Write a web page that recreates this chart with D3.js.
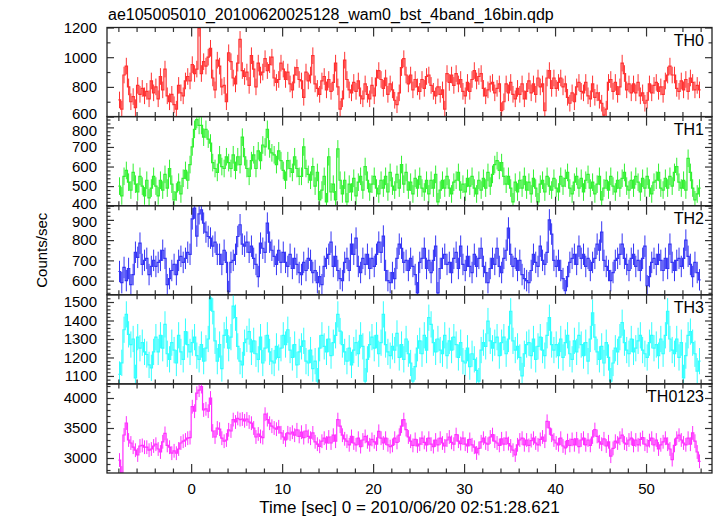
<!DOCTYPE html>
<html><head><meta charset="utf-8">
<script src="https://cdn.jsdelivr.net/npm/d3@7"></script>
<style>
body{margin:0;background:#fff}
svg{display:block}
text{font-family:"Liberation Sans",Arial,Helvetica,sans-serif;fill:#000}
</style>
</head><body>
<svg id="c" width="717" height="516"></svg>
<script>
const title = "ae105005010_20100620025128_wam0_bst_4band_16bin.qdp";
const xLabel = "Time [sec] 0 = 2010/06/20 02:51:28.621";
const yLabel = "Counts/sec";
const panelNames = ["TH0", "TH1", "TH2", "TH3", "TH0123"];
const binStart = -8, binWidth = 0.25;
const xDomain = [-9.25, 57.25];
const xMajorTicks = [0, 10, 20, 30, 40, 50];
const xMinorStep = 2;

const th0 = [
712,650,880,940, 800,700,735,660, 810,750,790,740, 770,720,840,760,
800,720,870,780, 920,740,700,750, 680,650,810,760, 740,840,870,840,
950,890,920,1195, 890,970,940,1000, 1060,860,780,980, 940,800,810,700,
1030,970,860,820, 960,1120,910,870, 900,810,1010,920, 800,960,880,900,
990,910,950,1000, 860,830,850,960, 920,850,900,820, 780,880,930,850,
840,730,900,840, 880,1010,820,790, 750,840,870,780, 850,770,830,960,
800,650,720,980, 850,780,760,830, 770,840,740,720, 820,750,720,810,
740,860,910,850, 790,860,750,820, 780,710,680,760, 930,990,880,820,
880,780,850,800, 770,850,790,870, 880,810,770,740, 800,750,780,650,
890,830,880,810, 890,820,850,770, 740,830,770,850, 910,840,870,890,
790,740,780,820, 830,760,790,820, 640,700,820,760, 830,750,720,790,
750,820,720,770, 840,760,820,750, 860,800,820,640, 860,910,790,860,
790,830,860,800, 820,730,690,760, 700,800,830,770, 760,830,740,720,
820,730,760,710, 690,610,650,830, 850,770,830,750, 800,960,890,780,
820,760,820,760, 830,740,760,690, 710,820,760,810, 830,770,800,750,
840,880,940,880, 880,790,770,840, 780,850,770,860, 830,780,810,780
];
const th1 = [
500,450,550,580, 520,480,570,510, 470,550,500,450, 530,440,490,550,
500,450,530,480, 560,490,590,510, 430,470,520,460, 540,580,530,610,
700,790,840,810, 810,750,790,740, 720,620,590,570, 660,600,590,650,
620,590,660,580, 650,610,750,650, 590,550,630,660, 590,680,630,710,
700,790,690,670, 660,610,680,630, 580,530,630,590, 570,650,590,550,
550,700,590,560, 530,600,500,570, 430,480,550,420, 650,470,510,430,
690,530,460,530, 420,510,470,540, 450,520,550,480, 600,530,470,510,
550,490,460,530, 490,550,470,570, 500,480,560,490, 610,510,570,480,
520,460,540,490, 550,490,470,530, 460,530,490,560, 420,480,530,490,
550,490,460,520, 530,570,480,510, 470,540,500,550, 490,460,530,480,
540,490,570,500, 560,610,630,580, 620,550,510,550, 490,420,520,470,
530,490,550,480, 520,460,540,490, 420,510,530,470, 550,500,480,540,
490,470,550,500, 540,570,490,460, 520,550,490,540, 470,530,560,490,
520,460,510,550, 430,490,530,480, 550,500,470,530, 490,540,570,500,
480,530,490,550, 520,470,540,490, 550,490,460,520, 530,570,490,480,
540,490,550,500, 570,600,520,490, 530,480,642,570, 490,430,460,490
];
const th2 = [
645,590,665,600, 660,580,630,740, 715,785,680,700, 710,630,670,700,
670,690,700,750, 710,580,610,650, 680,630,700,720, 690,710,740,730,
905,958,820,930, 950,884,840,818, 810,770,790,730, 730,680,750,690,
546,690,700,730, 818,876,780,770, 790,740,770,710, 680,620,785,760,
740,884,790,750, 720,680,750,690, 740,690,670,730, 660,710,680,640,
630,690,650,710, 700,640,650,590, 620,580,670,710, 730,790,670,720,
650,610,600,690, 710,650,780,730, 810,670,640,710, 680,730,660,710,
670,730,790,740, 820,650,600,590, 640,610,710,780, 760,690,700,650,
710,670,630,540, 690,710,760,660, 700,640,700,770, 540,660,710,730,
680,690,640,710, 740,660,770,680, 650,720,670,640, 730,670,710,760,
670,640,590,660, 710,680,760,670, 640,710,750,860, 730,670,710,650,
700,630,610,600, 590,650,730,690, 670,770,700,680, 740,900,830,700,
670,700,650,610, 550,620,690,710, 730,680,770,710, 730,670,710,650,
690,710,780,750, 840,700,670,650, 600,640,700,710, 730,780,710,680,
650,710,730,670, 700,650,710,770, 575,620,690,710, 680,730,700,650,
710,660,780,690, 650,700,710,670, 710,800,720,680, 620,690,640,604
];
const th3 = [
1108,1171,1350,1433, 1325,1270,1300,1090, 1310,1250,1280,1230, 1216,1160,1144,1230,
1310,1230,1320,1250, 1379,1220,1190,1280, 1240,1170,1320,1230, 1190,1340,1270,1230,
1280,1310,1210,1190, 1270,1180,1250,1300, 1523,1450,1290,1180, 1270,1140,1320,1350,
1250,1310,1478,1415, 1260,1180,1160,1280, 1300,1340,1230,1290, 1220,1190,1310,1170,
1250,1320,1230,1180, 1170,1260,1200,1250, 1320,1270,1350,1240, 1200,1270,1160,1230,
1260,1290,1180,1170, 1240,1140,1180,1072, 1250,1320,1260,1230, 1300,1210,1280,1320,
1433,1343,1270,1230, 1180,1250,1160,1240, 1280,1220,1320,1260, 1072,1190,1270,1310,
1250,1320,1220,1280, 1433,1270,1230,1210, 1260,1240,1330,1200, 1270,1190,1300,1220,
1170,1072,1150,1250, 1290,1220,1320,1240, 1415,1379,1280,1230, 1300,1240,1220,1320,
1210,1290,1240,1310, 1270,1200,1280,1180, 1170,1250,1150,1220, 1190,1130,1072,1240,
1280,1260,1397,1290, 1250,1280,1310,1210, 1280,1310,1220,1300, 1450,1290,1240,1260,
1200,1100,1220,1270, 1280,1210,1300,1190, 1260,1310,1240,1210, 1320,1415,1270,1240,
1270,1210,1300,1200, 1280,1320,1220,1190, 1290,1230,1320,1270, 1210,1280,1180,1300,
1442,1310,1230,1190, 1260,1170,1280,1200, 1072,1170,1250,1230, 1310,1388,1280,1240,
1220,1300,1230,1250, 1290,1320,1240,1220, 1200,1280,1320,1250, 1270,1210,1300,1220,
1320,1450,1300,1240, 1220,1300,1200,1280, 1090,1210,1320,1340, 1280,1220,1126,1180
];
const th0123 = [
2966,2750,3383,3583, 3300,3250,3180,3130, 3050,3200,3210,3180, 3180,3130,3150,3200,
3230,3150,3100,3270, 3410,3210,3180,3080, 3120,3080,3150,3250, 3280,3300,3330,3340,
3855,3780,4080,4130, 4190,3800,3820,3780, 4000,3450,3350,3500, 3480,3330,3280,3300,
3470,3450,3640,3600, 3660,3640,3650,3620, 3650,3600,3580,3500, 3350,3400,3360,3340,
3730,3640,3580,3530, 3500,3480,3520,3420, 3350,3300,3420,3400, 3430,3380,3470,3360,
3430,3340,3450,3360, 3330,3418,3270,3230, 3195,3280,3330,3250, 3350,3250,3380,3280,
3640,3530,3380,3320, 3280,3220,3360,3250, 3220,3330,3190,3300, 3360,3270,3220,3310,
3270,3230,3445,3330, 3250,3330,3220,3190, 3210,3330,3260,3380, 3530,3640,3474,3350,
3280,3210,3310,3200, 3230,3330,3260,3220, 3330,3230,3190,3300, 3220,3330,3250,3200,
3300,3350,3260,3230, 3390,3280,3240,3330, 3230,3200,3310,3220, 3180,3084,3160,3270,
3330,3250,3230,3350, 3390,3280,3250,3210, 3320,3230,3330,3240, 3200,3130,3050,3220,
3300,3330,3220,3300, 3210,3290,3330,3250, 3220,3310,3350,3280, 3612,3500,3380,3300,
3250,3220,3330,3200, 3170,3290,3210,3310, 3220,3320,3190,3300, 3330,3220,3300,3210,
3350,3474,3360,3270, 3230,3320,3200,3270, 3030,3160,3280,3250, 3330,3380,3250,3230,
3300,3330,3210,3300, 3220,3310,3340,3230, 3200,3290,3330,3220, 3300,3150,3220,3270,
3330,3230,3150,2973, 3210,3330,3380,3300, 3250,3220,3330,3230, 3418,3280,3100,2945
];
const series = [th0, th1, th2, th3, th0123];
const errors = [56, 45, 53, 71, 115];
const yDomains = [[600, 1200], [400, 855], [530, 970], [1057, 1539], [2750, 4235]];
const yMajorTicks = [[600, 800, 1000, 1200], [400, 500, 600, 700, 800], [600, 700, 800, 900], [1100, 1200, 1300, 1400, 1500], [3000, 3500, 4000]];
const yMinorStep = [100, 20, 20, 20, 100];
const colors = ["#ff3030", "#30f030", "#3434f4", "#30ffff", "#ff30ff"];

const svg = d3.select("#c");
const L = 107, R = 712, T = 27.5, B = 473;
const ph = (B - T) / 5;
const x = d3.scaleLinear().domain(xDomain).range([L, R]);
const xMinor = d3.range(-8, 57, xMinorStep).filter(v => !xMajorTicks.includes(v));
// small vertical nudges so stacked labels at panel joins do not collide
const labelNudge = {"0:600": -3, "1:800": 3, "1:400": -2, "2:900": 2};

svg.append("text").attr("x", 108).attr("y", 20).attr("font-size", 16).text(title);

panelNames.forEach((name, p) => {
  const top = T + p * ph, bot = top + ph;
  const y = d3.scaleLinear().domain(yDomains[p]).range([bot, top]);
  const g = svg.append("g");
  const clipId = "clip" + p;
  svg.append("clipPath").attr("id", clipId).append("rect")
    .attr("x", L).attr("y", top).attr("width", R - L).attr("height", ph);
  const data = series[p].map((v, i) => ({t: binStart + binWidth * (i + 0.5), v}));
  const dg = g.append("g").attr("clip-path", `url(#${clipId})`)
    .attr("stroke", colors[p]).attr("stroke-width", 1).attr("fill", "none");
  const e = errors[p];
  dg.selectAll("line.ey").data(data).join("line").attr("class", "ey")
    .attr("x1", d => x(d.t)).attr("x2", d => x(d.t))
    .attr("y1", d => y(d.v - e)).attr("y2", d => y(d.v + e));
  const step = d3.line().curve(d3.curveStepAfter)
    .x(d => x(d[0])).y(d => y(d[1]));
  const pts = data.map(d => [d.t - binWidth / 2, d.v]);
  pts.push([data[data.length - 1].t + binWidth / 2, data[data.length - 1].v]);
  dg.append("path").attr("d", step(pts)).attr("stroke-width", 1.2);

  const yMinorVals = d3.range(Math.ceil(yDomains[p][0] / yMinorStep[p]) * yMinorStep[p], yDomains[p][1] + 0.01, yMinorStep[p])
    .filter(v => !yMajorTicks[p].includes(v));
  const axG = svg.append("g").attr("class", "ax");
  const yl = axG.append("g").attr("transform", `translate(${L},0)`)
    .call(d3.axisLeft(y).tickValues(yMajorTicks[p]).tickSize(-7).tickPadding(10).tickFormat(d3.format("d")));
  yl.selectAll(".tick text").attr("dy", d => (0.32 * 15 + (labelNudge[p + ":" + d] || 0)) + "px");
  axG.append("g").attr("transform", `translate(${L},0)`)
    .call(d3.axisLeft(y).tickValues(yMinorVals).tickSize(-3.5).tickFormat(""));
  axG.append("g").attr("transform", `translate(${R},0)`)
    .call(d3.axisRight(y).tickValues(yMajorTicks[p]).tickSize(-7).tickFormat(""));
  axG.append("g").attr("transform", `translate(${R},0)`)
    .call(d3.axisRight(y).tickValues(yMinorVals).tickSize(-3.5).tickFormat(""));
  axG.append("g").attr("transform", `translate(0,${top})`)
    .call(d3.axisTop(x).tickValues(xMajorTicks).tickSize(-9).tickFormat(""));
  axG.append("g").attr("transform", `translate(0,${top})`)
    .call(d3.axisTop(x).tickValues(xMinor).tickSize(-4.5).tickFormat(""));
  axG.append("g").attr("transform", `translate(0,${bot})`)
    .call(d3.axisBottom(x).tickValues(xMajorTicks).tickSize(-9).tickPadding(10)
      .tickFormat(p === 4 ? d3.format("d") : ""));
  axG.append("g").attr("transform", `translate(0,${bot})`)
    .call(d3.axisBottom(x).tickValues(xMinor).tickSize(-4.5).tickFormat(""));
  svg.append("rect").attr("x", L).attr("y", top).attr("width", R - L).attr("height", ph)
    .attr("fill", "none").attr("stroke", "#222").attr("stroke-width", 1.3);
  svg.append("text").attr("x", 704).attr("y", top + 18).attr("text-anchor", "end")
    .attr("font-size", 16).text(name);
});

svg.selectAll(".ax .domain").remove();
svg.selectAll(".ax line").attr("stroke", "#333").attr("stroke-width", 1.2);
svg.selectAll(".ax text").attr("font-size", 15).attr("fill", "#000")
  .attr("font-family", '"Liberation Sans",Arial,Helvetica,sans-serif');

svg.append("text").attr("x", (L + R) / 2).attr("y", 513).attr("text-anchor", "middle")
  .attr("font-size", 17).text(xLabel);
svg.append("text").attr("transform", `translate(47,${(T + B) / 2}) rotate(-90)`)
  .attr("text-anchor", "middle").attr("font-size", 15).text(yLabel);
</script>
</body></html>
